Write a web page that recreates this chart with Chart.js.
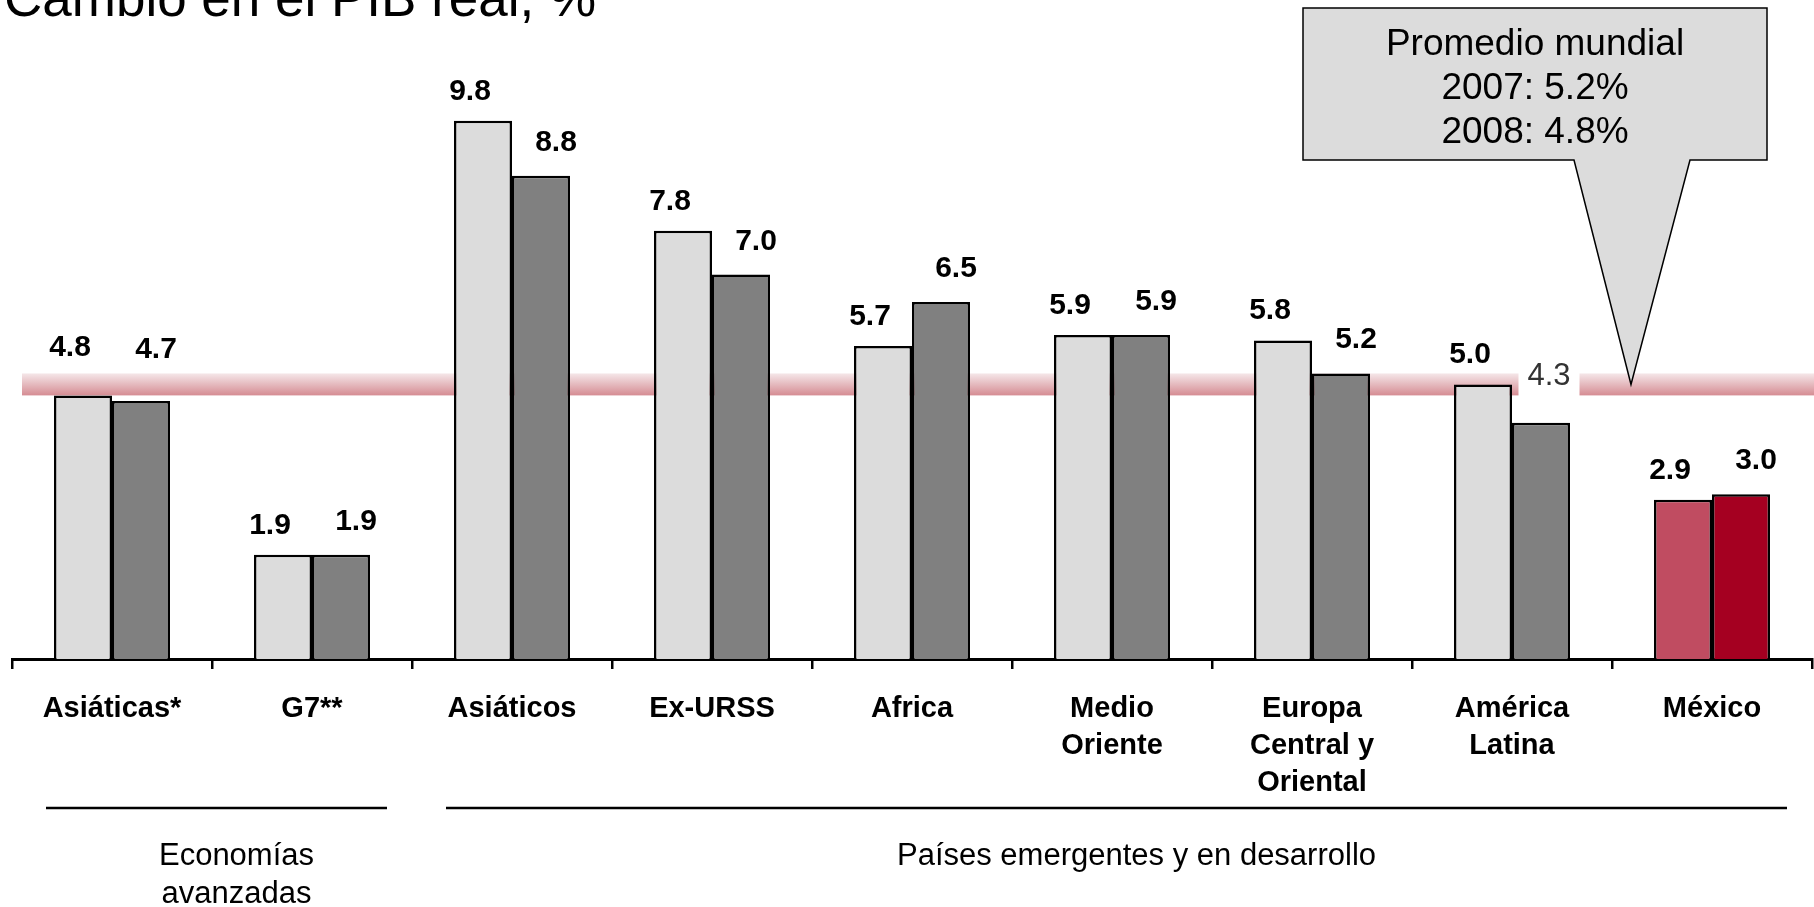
<!DOCTYPE html>
<html lang="es">
<head>
<meta charset="utf-8">
<title>Cambio en el PIB real, %</title>
<script src="https://cdn.jsdelivr.net/npm/chart.js@4.4.0/dist/chart.umd.min.js"></script>
<style>
  html, body { margin: 0; padding: 0; background: #fff; overflow: hidden; }
  canvas { display: block; }
</style>
</head>
<body>
<canvas id="gdp" width="1814" height="907"></canvas>
<script>
const categories = ['Asiáticas*', 'G7**', 'Asiáticos', 'Ex-URSS', 'Africa', ['Medio', 'Oriente'], ['Europa', 'Central y', 'Oriental'], ['América', 'Latina'], 'México']
const gdp2007 = [4.8, 1.9, 9.8, 7.8, 5.7, 5.9, 5.8, 5.0, 2.9]
const gdp2008 = [4.7, 1.9, 8.8, 7.0, 6.5, 5.9, 5.2, 4.3, 3.0]
const worldYears = ['2007', '2008']
const worldAverage = [5.2, 4.8]
const groupNames = [['Economías', 'avanzadas'], ['Países emergentes y en desarrollo']]
const groupRanges = [[0, 1], [2, 8]]

const FONT = "'Liberation Sans', Arial, sans-serif"

// México gets the red pair, everything else gray
const barColor = (base, highlight) => ctx => categories[ctx.dataIndex] === 'México' ? highlight : base

// the first pair's labels sit higher on the slide, clear of the band
const raisedLabels = { 'Asiáticas*': 18 }

const fmt = v => v.toFixed(1)

// pink band between the two world averages, behind the bars
const worldBand = {
  id: 'worldBand',
  beforeDatasetsDraw(chart) {
    const { ctx, scales: { y } } = chart
    const top = y.getPixelForValue(Math.max(...worldAverage))
    const bottom = y.getPixelForValue(Math.min(...worldAverage))
    const g = ctx.createLinearGradient(0, top, 0, bottom)
    g.addColorStop(0, '#f5e7e9')
    g.addColorStop(1, '#d58c93')
    ctx.save()
    ctx.fillStyle = g
    ctx.fillRect(22, top, chart.width - 22, bottom - top)
    ctx.restore()
  }
}

const valueLabels = {
  id: 'valueLabels',
  afterDatasetsDraw(chart) {
    const { ctx, scales: { y } } = chart
    const bandTop = y.getPixelForValue(Math.max(...worldAverage))
    const bandBottom = y.getPixelForValue(Math.min(...worldAverage))
    ctx.save()
    ctx.textAlign = 'center'
    chart.data.datasets.forEach((ds, i) => {
      const dx = i === 0 ? -13 : 15
      const lift = i === 0 ? 21 : 25
      chart.getDatasetMeta(i).data.forEach((bar, j) => {
        const text = fmt(ds.data[j])
        const extra = raisedLabels[categories[j]] || 0
        const base = bar.y - lift - extra
        if (base > bandTop && base - 21 < bandBottom) {
          // label falls on the band: white patch, plain weight
          const h = 47, w = 61
          const x = bar.x + 8
          const boxBottom = bandBottom + 4
          ctx.fillStyle = '#fff'
          ctx.fillRect(x - w / 2, boxBottom - h, w, h)
          ctx.fillStyle = '#333'
          ctx.font = `31px ${FONT}`
          ctx.textBaseline = 'middle'
          ctx.fillText(text, x, boxBottom - h / 2 + 1)
        } else {
          ctx.fillStyle = '#000'
          ctx.font = `bold 30px ${FONT}`
          ctx.textBaseline = 'alphabetic'
          ctx.fillText(text, bar.x + dx, base)
        }
      })
    })
    ctx.restore()
  }
}

const callout = {
  id: 'callout',
  afterDatasetsDraw(chart) {
    const { ctx, scales: { y } } = chart
    const tipY = y.getPixelForValue((worldAverage[0] + worldAverage[1]) / 2)
    ctx.save()
    ctx.beginPath()
    ctx.moveTo(1303, 8)
    ctx.lineTo(1767, 8)
    ctx.lineTo(1767, 160)
    ctx.lineTo(1690, 160)
    ctx.lineTo(1631, tipY)
    ctx.lineTo(1574, 160)
    ctx.lineTo(1303, 160)
    ctx.closePath()
    ctx.fillStyle = '#dcdcdc'
    ctx.fill()
    ctx.lineWidth = 1.5
    ctx.strokeStyle = '#000'
    ctx.stroke()
    ctx.fillStyle = '#000'
    ctx.font = `37px ${FONT}`
    ctx.textAlign = 'center'
    ctx.fillText('Promedio mundial', 1535, 55)
    worldYears.forEach((yr, k) => {
      ctx.fillText(`${yr}: ${fmt(worldAverage[k])}%`, 1535, 99 + k * 44)
    })
    ctx.restore()
  }
}

const extras = {
  id: 'extras',
  afterDraw(chart) {
    const { ctx, scales: { x } } = chart
    ctx.save()
    // title, cut at the top edge like the original slide
    ctx.fillStyle = '#000'
    ctx.font = `53px ${FONT}`
    ctx.textAlign = 'left'
    ctx.fillText('Cambio en el PIB real, %', 4, 16)

    // group brackets under the category labels
    const step = x.getPixelForValue(1) - x.getPixelForValue(0)
    ctx.strokeStyle = '#000'
    ctx.lineWidth = 2.5
    ctx.font = `31px ${FONT}`
    ctx.textAlign = 'center'
    groupRanges.forEach(([a, b], g) => {
      const left = x.getPixelForValue(a) - step / 2 + 34
      const right = x.getPixelForValue(b) + step / 2 - 25
      ctx.beginPath()
      ctx.moveTo(left, 808)
      ctx.lineTo(right, 808)
      ctx.stroke()
      const cx = (left + right) / 2 + 20
      groupNames[g].forEach((line, k) => ctx.fillText(line, cx, 865 + k * 38))
    })
    ctx.restore()
  }
}

new Chart(document.getElementById('gdp'), {
  type: 'bar',
  data: {
    labels: categories,
    datasets: [
      {
        label: '2007',
        data: gdp2007,
        backgroundColor: barColor('#dcdcdc', '#c04c61'),
        borderColor: '#000',
        borderWidth: 2.5
      },
      {
        label: '2008',
        data: gdp2008,
        backgroundColor: barColor('#808080', '#a50021'),
        borderColor: '#000',
        borderWidth: 2.5
      }
    ]
  },
  options: {
    responsive: false,
    animation: false,
    devicePixelRatio: 1,
    categoryPercentage: 0.58,
    barPercentage: 1,
    layout: { padding: { left: 12, right: 2, top: 0, bottom: 0 } },
    plugins: {
      legend: { display: false },
      tooltip: { enabled: false }
    },
    scales: {
      x: {
        offset: true,
        grid: {
          offset: true,
          drawOnChartArea: false,
          drawTicks: true,
          tickLength: 10,
          color: '#000',
          lineWidth: 2.5
        },
        border: { display: true, color: '#000', width: 3 },
        ticks: {
          color: '#000',
          padding: 21,
          maxRotation: 0,
          autoSkip: false,
          font: { family: FONT, size: 29, weight: 'bold', lineHeight: 1.28 }
        },
        afterFit(scale) { scale.height = 248 }
      },
      y: {
        display: false,
        min: 0,
        max: 12
      }
    }
  },
  plugins: [worldBand, valueLabels, callout, extras]
})
</script>
</body>
</html>
